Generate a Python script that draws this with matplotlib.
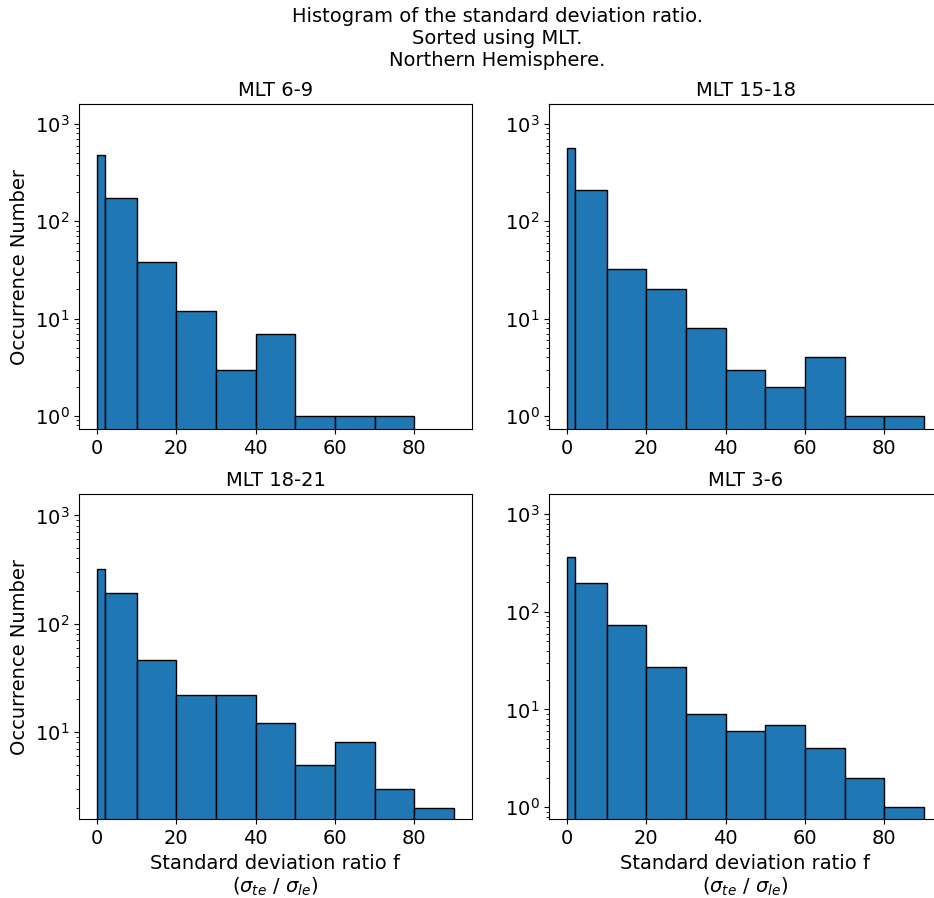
import numpy as np
import matplotlib
matplotlib.use("Agg")
import matplotlib.pyplot as plt

# Bin edges of the standard deviation ratio f
bin_edges = [0, 2, 10, 20, 30, 40, 50, 60, 70, 80, 90]

# Occurrence counts per bin for each MLT sector
counts_mlt_6_9 = [480, 172, 38, 12, 3, 7, 1, 1, 1, 0]
counts_mlt_15_18 = [562, 210, 32, 20, 8, 3, 2, 4, 1, 1]
counts_mlt_18_21 = [320, 192, 46, 22, 22, 12, 5, 8, 3, 2]
counts_mlt_3_6 = [365, 198, 74, 27, 9, 6, 7, 4, 2, 1]

panel_titles = ["MLT 6-9", "MLT 15-18", "MLT 18-21", "MLT 3-6"]
panel_counts = [counts_mlt_6_9, counts_mlt_15_18, counts_mlt_18_21, counts_mlt_3_6]

W, H = 934, 898
fig = plt.figure(figsize=(W / 100, H / 100), dpi=100)

# axes boxes in pixels: left, top, right, bottom
boxes = [
    (79.3, 104.3, 471.7, 429.3),
    (549.3, 104.3, 941.7, 429.3),
    (79.3, 494.3, 471.7, 819.3),
    (549.3, 494.3, 941.7, 819.3),
]
ylims = [(0.73, 1592), (0.73, 1592), (1.56, 1565), (0.75, 1600)]

edges = np.array(bin_edges, dtype=float)
centers = 0.5 * (edges[:-1] + edges[1:])

for i, (title, counts, box, yl) in enumerate(zip(panel_titles, panel_counts, boxes, ylims)):
    l, t, r, b = box
    ax = fig.add_axes([l / W, 1 - b / H, (r - l) / W, (b - t) / H])
    ax.hist(centers, bins=edges, weights=counts, color="#1f77b4",
            edgecolor="black", linewidth=1.0, log=True)
    ax.set_yscale("log")
    ax.set_xlim(-4.5, 94.5)
    ax.set_ylim(*yl)
    ax.set_xticks([0, 20, 40, 60, 80])
    ax.tick_params(axis="both", which="major", labelsize=14)
    ax.set_title(title, fontsize=14)
    if i % 2 == 0:
        ax.set_ylabel("Occurrence Number", fontsize=14)
    if i >= 2:
        ax.set_xlabel("Standard deviation ratio f\n"
                      r"($\sigma_{te}$ / $\sigma_{le}$)", fontsize=14)

fig.suptitle("Histogram of the standard deviation ratio.\n"
             "Sorted using MLT.\nNorthern Hemisphere.",
             fontsize=14, x=497 / W, y=1 - 7 / H, va="top")

fig.savefig("out.png", dpi=100)
